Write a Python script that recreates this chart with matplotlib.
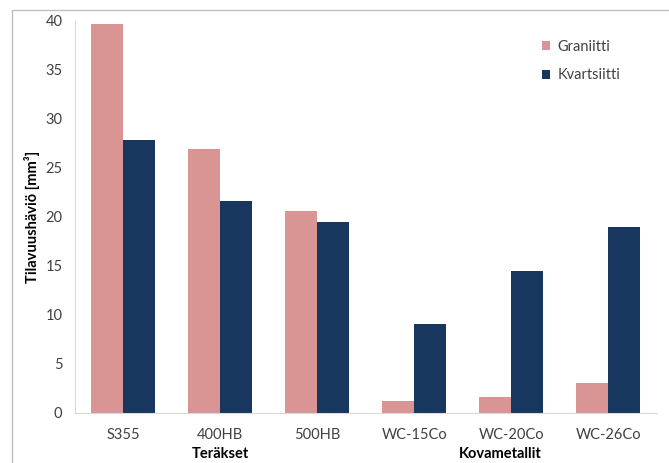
import numpy as np
import matplotlib.pyplot as plt
from matplotlib.patches import Rectangle

materials = ['S355', '400HB', '500HB', 'WC-15Co', 'WC-20Co', 'WC-26Co']
graniitti = [39.7, 26.9, 20.6, 1.2, 1.6, 3.1]
kvartsiitti = [27.8, 21.6, 19.5, 9.1, 14.5, 19.0]
groups = ['Teräkset', 'Kovametallit']
group_pos = [1.0, 3.88]

pink = '#D99594'
navy = '#17375E'

plt.rcParams['font.family'] = ['Lato', 'DejaVu Sans']

fig = plt.figure(figsize=(6.69, 4.63), dpi=100)
ax = fig.add_axes([0.112, 0.108, 0.870, 0.847])

x = np.arange(len(materials))
w = 0.33
ax.bar(x - w/2, graniitti, w, color=pink, label='Graniitti')
ax.bar(x + w/2, kvartsiitti, w, color=navy, label='Kvartsiitti')

ax.set_xlim(-0.5, len(materials) - 0.5)
ax.set_ylim(0, 40)
ax.set_yticks(range(0, 41, 5))
ax.set_xticks(x)
ax.set_xticklabels(materials)
ax.tick_params(length=0, labelsize=10.5, colors='#404040')
ax.tick_params(axis='y', pad=9)
ax.tick_params(axis='x', pad=11)

for s in ['top', 'right']:
    ax.spines[s].set_visible(False)
ax.spines['left'].set_color('#D9D9D9')
ax.spines['bottom'].set_color('#D9D9D9')

ax.set_ylabel('Tilavuushäviö [mm³]', fontsize=10.5, fontweight='bold', labelpad=4)

# group labels under the categories
for g, p in zip(groups, group_pos):
    ax.text(p, -0.086, g, transform=ax.get_xaxis_transform(),
            ha='center', va='top', fontsize=10.5, fontweight='bold')

leg = ax.legend(loc='upper right', bbox_to_anchor=(0.96, 0.985), frameon=False,
                fontsize=10.5, handlelength=0.55, handleheight=0.55,
                handletextpad=0.5, labelspacing=1.0)
for t in leg.get_texts():
    t.set_color('#404040')

# outer frame of the chart area
fig.patches.append(Rectangle((12/669, -0.1), 2, (463-10)/463 + 0.1,
                             transform=fig.transFigure, fill=False,
                             edgecolor='#BFBFBF', linewidth=1))

fig.savefig('out.png', dpi=100)
